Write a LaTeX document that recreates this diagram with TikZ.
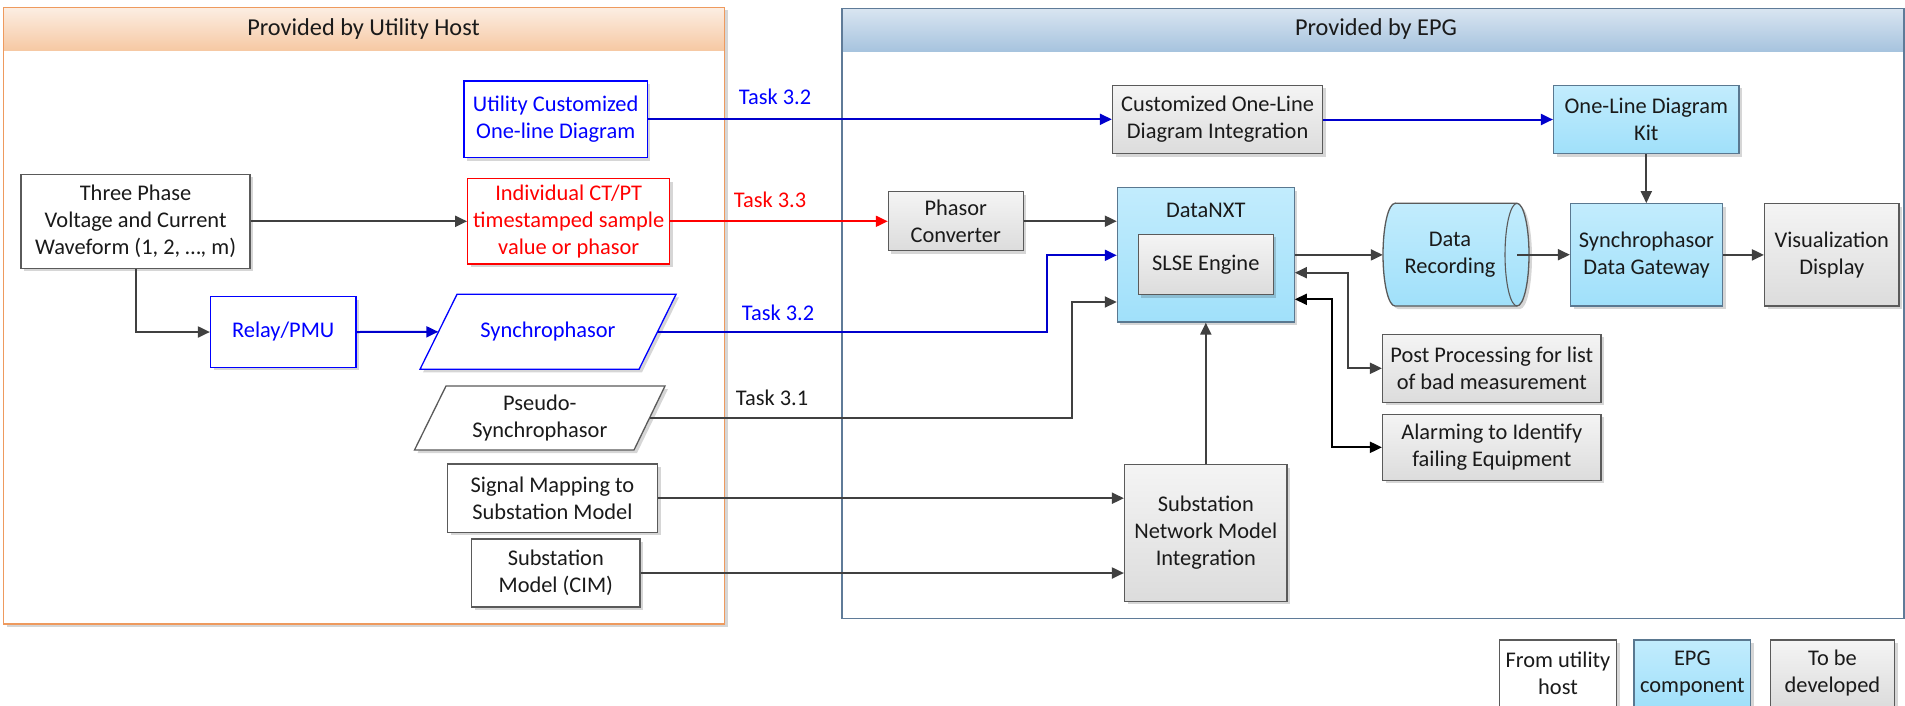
\documentclass[tikz,border=0pt]{standalone}
\usepackage{fontspec}
\setmainfont{Carlito}
\usetikzlibrary{arrows.meta,shadows,calc}
\definecolor{gline}{HTML}{404040}
\definecolor{bline}{HTML}{0000CC}
\definecolor{btext}{HTML}{0000FF}
\definecolor{rline}{HTML}{FF0000}
\definecolor{gtop}{HTML}{F4F4F4}
\definecolor{gbot}{HTML}{DCDCDC}
\definecolor{btop}{HTML}{C2ECFD}
\definecolor{bbot}{HTML}{A0E0FA}
\definecolor{bdrgray}{HTML}{5A5A5A}
\definecolor{bdrblue}{HTML}{5A7890}
\definecolor{otop}{HTML}{FCEEE3}
\definecolor{obot}{HTML}{F6C9A4}
\definecolor{oline}{HTML}{EE9A5E}
\definecolor{ctop}{HTML}{D9E5F1}
\definecolor{cbot}{HTML}{A6C3DE}
\definecolor{cline}{HTML}{5F7B98}
\definecolor{txt}{HTML}{1A1A1A}
\newcommand\dfont{\fontsize{22.4}{27}\selectfont}
\newcommand\hfont{\fontsize{24.3}{29}\selectfont}

\begin{document}
\begin{tikzpicture}[x=1pt,y=1pt,
  shd/.style={drop shadow={shadow xshift=3pt,shadow yshift=-3pt,opacity=0.16,fill=black}},
  base/.style={inner sep=0pt,align=center,font=\dfont,text=txt},
  sz/.style 2 args={minimum width=#1pt,minimum height=#2pt},
  gbox/.style={base,draw=bdrgray,line width=1.3pt,top color=gtop,bottom color=gbot,shd},
  bbox/.style={base,draw=bdrblue,line width=1.3pt,top color=btop,bottom color=bbot,shd},
  wbox/.style={base,draw=bdrgray,line width=1.3pt,fill=white,shd},
  ubox/.style={base,draw=btext,line width=1.3pt,fill=white,text=btext,shd},
  rbox/.style={base,draw=rline,line width=1.3pt,fill=white,text=rline,shd},
  tip/.style={-{Triangle[length=12pt,width=11pt]}},
  gconn/.style={line width=2pt,draw=gline,tip},
  bconn/.style={line width=2pt,draw=bline,tip},
  rconn/.style={line width=2pt,draw=rline,tip},
  dconn/.style={line width=2pt,{Triangle[length=12pt,width=11pt]}-{Triangle[length=12pt,width=11pt]}}
]
\useasboundingbox (0,0) rectangle (1905,-705);
\clip (0,0) rectangle (1905,-705);

% ---------- containers ----------
\draw[oline,line width=1.3pt,fill=white,shd] (3.8,-7.3) rectangle (724.5,-624);
\shade[top color=otop,bottom color=obot] (3.8,-7.3) rectangle (724.5,-50);
\draw[oline,line width=1.3pt] (3.8,-7.3) rectangle (724.5,-624);
\node[base,font=\hfont] (hdrU) at (363.5,-29.3) {Provided by Utility Host};

\draw[cline,line width=1.3pt,fill=white] (842,-8.3) rectangle (1904,-618.3);
\shade[top color=ctop,bottom color=cbot] (842,-8.3) rectangle (1904,-51.7);
\draw[cline,line width=1.3pt] (842,-8.3) rectangle (1904,-618.3);
\node[base,font=\hfont] (hdrE) at (1376,-29.3) {Provided by EPG};

% ---------- utility host nodes ----------
\node[ubox,sz={183.5}{76.7}] (util) at (555.7,-119.3) {Utility Customized\\One-line Diagram};
\node[wbox,sz={229}{94}] (three) at (135.6,-221.3) {Three Phase\\Voltage and Current\\Waveform (1, 2, …, m)};
\node[rbox,sz={202}{85.3}] (ctpt) at (568.7,-221.3) {Individual CT/PT\\timestamped sample\\value or phasor};
\node[ubox,sz={145.3}{70.6}] (relay) at (283.2,-332) {Relay/PMU};

\draw[btext,line width=1.3pt,fill=white,shd] (457,-294.3) -- (676,-294.3) -- (639,-369.3) -- (420,-369.3) -- cycle;
\node[base,sz={219}{75},text=btext] (synch) at (548,-331.8) {Synchrophasor};

\draw[bdrgray,line width=1.3pt,fill=white,shd] (446,-386) -- (665,-386) -- (634,-450) -- (414.5,-450) -- cycle;
\node[base,sz={219}{64}] (pseudo) at (539.8,-418) {Pseudo-\\Synchrophasor};

\node[wbox,sz={210}{68.3}] (sigmap) at (552.5,-498.2) {Signal Mapping to\\Substation Model};
\node[wbox,sz={168.5}{68}] (cim) at (555.8,-573) {Substation\\Model (CIM)};

% ---------- EPG nodes ----------
\node[gbox,sz={210.2}{68.4}] (codi) at (1217.6,-119.5) {Customized One-Line\\Diagram Integration};
\node[bbox,sz={185.5}{68.4}] (kit) at (1646.3,-119.5) {One-Line Diagram\\Kit};
\node[gbox,sz={134.8}{59}] (pc) at (955.8,-221.2) {Phasor\\Converter};
\node[bbox,sz={176.8}{134.3}] (dnxt) at (1205.8,-254.9) {};
\node[base] (dnxtl) at (1205.8,-210.7) {DataNXT};
\node[gbox,sz={134.8}{60.4}] (slse) at (1205.8,-264.5) {SLSE Engine};

\draw[bdrgray,line width=1.3pt,top color=btop,bottom color=bbot,shd]
  (1395,-203.3) -- (1517,-203.3) arc[start angle=90,end angle=-90,x radius=12,y radius=51.35]
  -- (1395,-306) arc[start angle=270,end angle=90,x radius=12,y radius=51.35] -- cycle;
\draw[bdrgray,line width=1.1pt] (1517,-203.3) arc[start angle=90,end angle=270,x radius=12,y radius=51.35];
\node[base,sz={134}{102.7}] (dr) at (1450,-254.7) {Data\\Recording};

\node[bbox,sz={152}{102.3}] (sdg) at (1646.5,-254.9) {Synchrophasor\\Data Gateway};
\node[gbox,sz={134.5}{102.3}] (vis) at (1831.8,-254.9) {Visualization\\Display};
\node[gbox,sz={218.4}{68}] (pp) at (1491.8,-368.3) {Post Processing for list\\of bad measurement};
\node[gbox,sz={218.4}{66}] (alarm) at (1491.8,-447.3) {Alarming to Identify\\failing Equipment};
\node[gbox,sz={162.5}{136.6}] (snmi) at (1205.8,-533) {Substation\\Network Model\\Integration};

% ---------- legend ----------
\node[wbox,sz={117}{67}] (lgU) at (1558,-673.5) {From utility\\host};
\node[bbox,sz={116.6}{67}] (lgE) at (1692.3,-673.5) {EPG\\component};
\node[gbox,sz={124.2}{67}] (lgT) at (1832.4,-673.5) {To be\\developed};

% ---------- connectors ----------
\draw[bconn] (util.east) -- (util.east -| codi.west);
\node[base,text=btext] (t32a) at (775,-96.7) {Task 3.2};
\draw[bconn] (codi.east) -- (kit.west);

\draw[gconn] (three.east) -- (three.east -| ctpt.west);
\draw[gconn] (three.south) |- (relay.west);
\draw[bconn] (relay.east) -- (synch.west);

\draw[rconn] (ctpt.east) -- (ctpt.east -| pc.west);
\node[base,text=rline] (t33) at (770,-200) {Task 3.3};
\draw[gconn] (pc.east) -- (pc.east -| dnxt.west);

\coordinate (s1) at (1046.9,-255.3);
\draw[bconn] (synch.east) -| (s1) -- (s1 -| dnxt.west);
\node[base,text=btext] (t32b) at (778,-313.3) {Task 3.2};

\coordinate (p1) at (1071.9,-302);
\draw[gconn] (pseudo.east) -| (p1) -- (p1 -| dnxt.west);
\node[base] (t31) at (772,-398.3) {Task 3.1};

\draw[gconn] (sigmap.east) -- (sigmap.east -| snmi.west);
\draw[gconn] (cim.east) -- (cim.east -| snmi.west);
\draw[gconn] (snmi.north) -- (dnxt.south);

\draw[gconn] (dnxt.east) -- (dnxt.east -| dr.west);
\coordinate (drc) at (1517,-254.7);
\draw[gconn] (drc) -- (drc -| sdg.west);
\draw[gconn] (kit.south) -- (kit.south |- sdg.north);
\draw[gconn] (sdg.east) -- (sdg.east -| vis.west);

\coordinate (q1) at (1347.7,-272.7);
\draw[dconn,draw=gline] (q1 -| dnxt.east) -- (q1) |- (pp.west);
\coordinate (q2) at (1331.6,-299.3);
\draw[dconn,draw=black] (q2 -| dnxt.east) -- (q2) |- (alarm.west);
\end{tikzpicture}
\end{document}
